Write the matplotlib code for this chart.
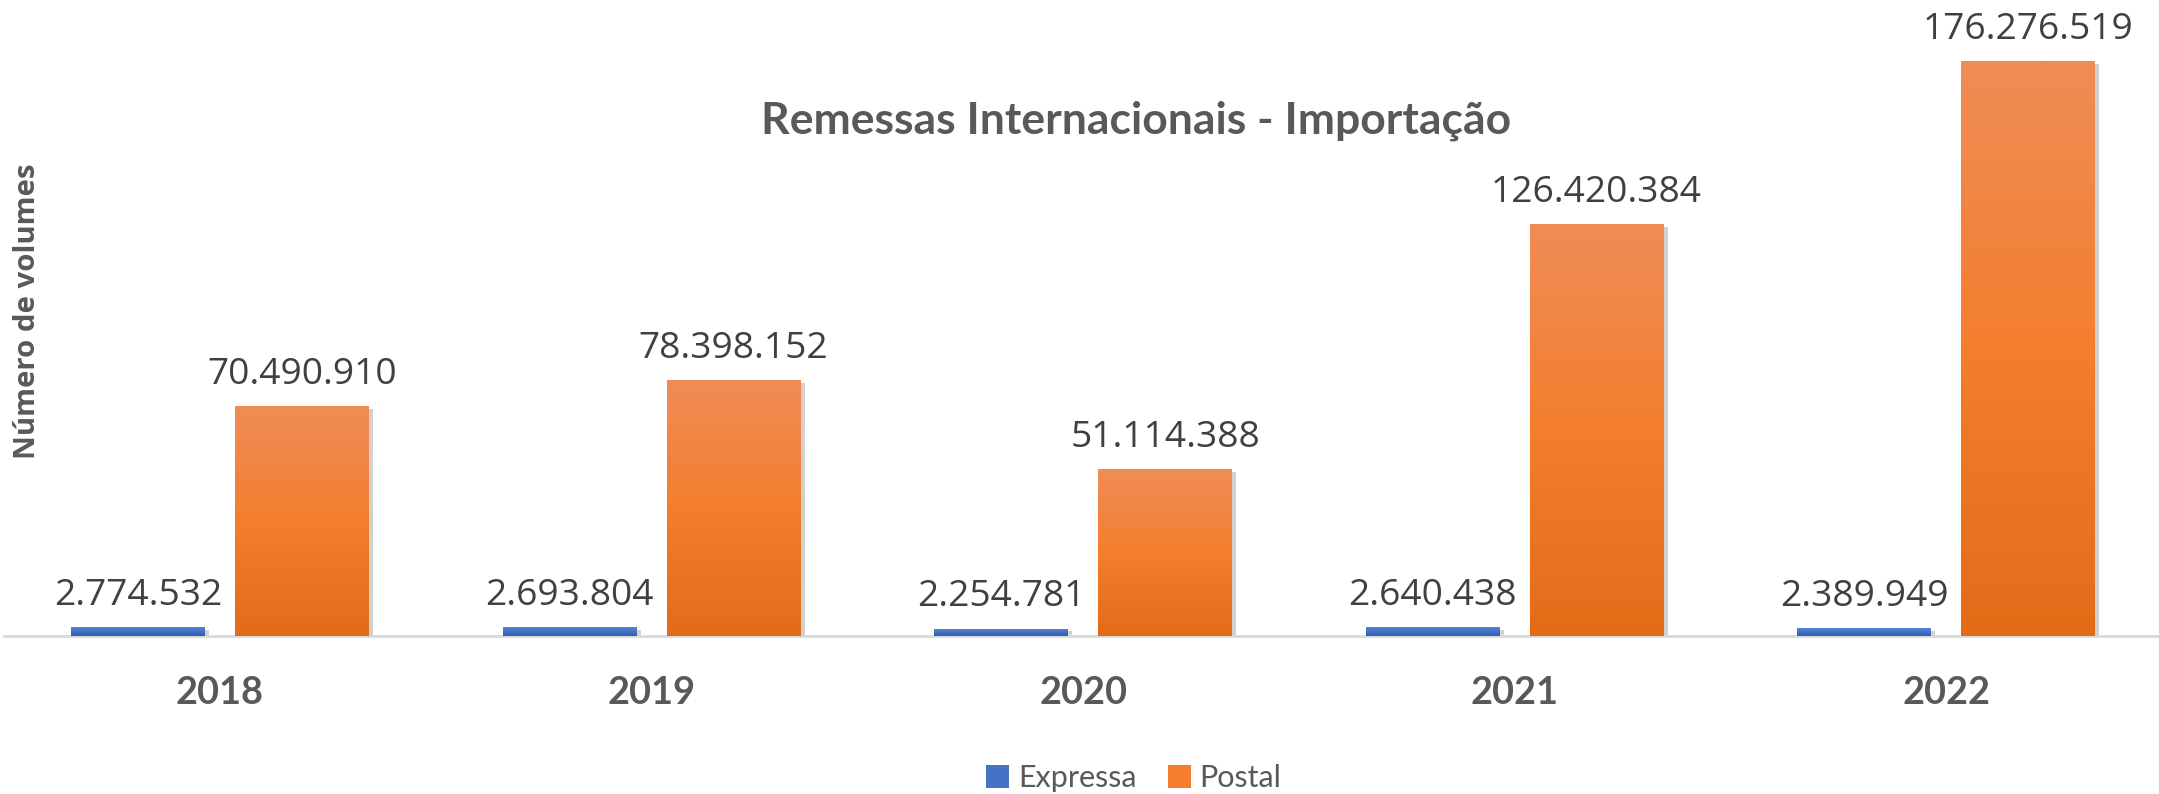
import numpy as np
import matplotlib
matplotlib.use('Agg')
import matplotlib.pyplot as plt
import matplotlib.patheffects as pe
from matplotlib.colors import LinearSegmentedColormap
from matplotlib.patches import Patch


anos = ['2018', '2019', '2020', '2021', '2022']
expressa = [2774532, 2693804, 2254781, 2640438, 2389949]
postal = [70490910, 78398152, 51114388, 126420384, 176276519]
series = ['Expressa', 'Postal']

W, H = 2159, 794
DPI = 100

# gradientes estilo Excel (topo claro -> base escura)
cm_azul = LinearSegmentedColormap.from_list('azul', ['#5585d6', '#4472c4', '#2f5cb4'])
cm_laranja = LinearSegmentedColormap.from_list('laranja', ['#f08c56', '#f47e2e', '#e36b18'])


def fmt(v):
    return f'{v:,}'.replace(',', '.')


def barras_gradiente(ax, xs, vals, width, cmap, cor):
    bars = ax.bar(xs, vals, width, color=cor, zorder=2,
                  path_effects=[pe.SimplePatchShadow(offset=(3, -2), shadow_rgbFace='#000000', alpha=0.18),
                                pe.Normal()])
    grad = np.linspace(0, 1, 256).reshape(-1, 1)
    for b in bars:
        x0, y0 = b.get_x(), b.get_y()
        x1, y1 = x0 + b.get_width(), y0 + b.get_height()
        im = ax.imshow(grad, cmap=cmap, aspect='auto', extent=(x0, x1, y0, y1),
                       origin='upper', zorder=3, vmin=0, vmax=1)
        im.set_clip_path(b)
    return bars


fig = plt.figure(figsize=(W / DPI, H / DPI), dpi=DPI)
ax = fig.add_axes([0.0019, 0.199, 0.9995, 0.7594])

x = np.arange(len(anos))
w = 0.31
off = 0.19

b1 = barras_gradiente(ax, x - off, expressa, w, cm_azul, '#4472c4')
b2 = barras_gradiente(ax, x + off, postal, w, cm_laranja, '#f47e2e')

ax.set_xlim(-0.5, len(anos) - 0.5)
ax.set_ylim(0, 185e6)

for bars, vals in [(b1, expressa), (b2, postal)]:
    for b, v in zip(bars, vals):
        ax.annotate(fmt(v), (b.get_x() + b.get_width() / 2, b.get_height()),
                    xytext=(0, 16), textcoords='offset points',
                    ha='center', va='baseline', fontsize=26.7,
                    family='Open Sans', color='#404040', zorder=5,
                    annotation_clip=False)

for s in ['top', 'right', 'left']:
    ax.spines[s].set_visible(False)
ax.spines['bottom'].set_color('#d9d9d9')
ax.spines['bottom'].set_linewidth(2)
ax.set_yticks([])
ax.set_xticks(x)
ax.set_xticklabels(anos, fontsize=27.3, fontweight='bold', family='Lato', color='#595959')
ax.tick_params(axis='x', length=0, pad=29)

fig.text(1136 / W, 1 - 121 / H, 'Remessas Internacionais - Importação', ha='center', va='center',
         fontsize=32, fontweight='bold', family='Lato', color='#595959')
fig.text(28 / W, 1 - 311 / H, 'Número de volumes', rotation=90, ha='center', va='center',
         fontsize=21.2, fontweight='bold', family='Open Sans', color='#595959')

handles = [Patch(facecolor='#4472c4'), Patch(facecolor='#f47e2e')]
fig.legend(handles, series, loc='center', bbox_to_anchor=(1134 / W, 1 - 778 / H), ncol=2,
           frameon=False, prop={'family': 'Lato', 'size': 22}, labelcolor='#595959',
           handlelength=0.75, handleheight=0.75, handletextpad=0.3, columnspacing=1.0)

fig.savefig('out.png', dpi=DPI)
